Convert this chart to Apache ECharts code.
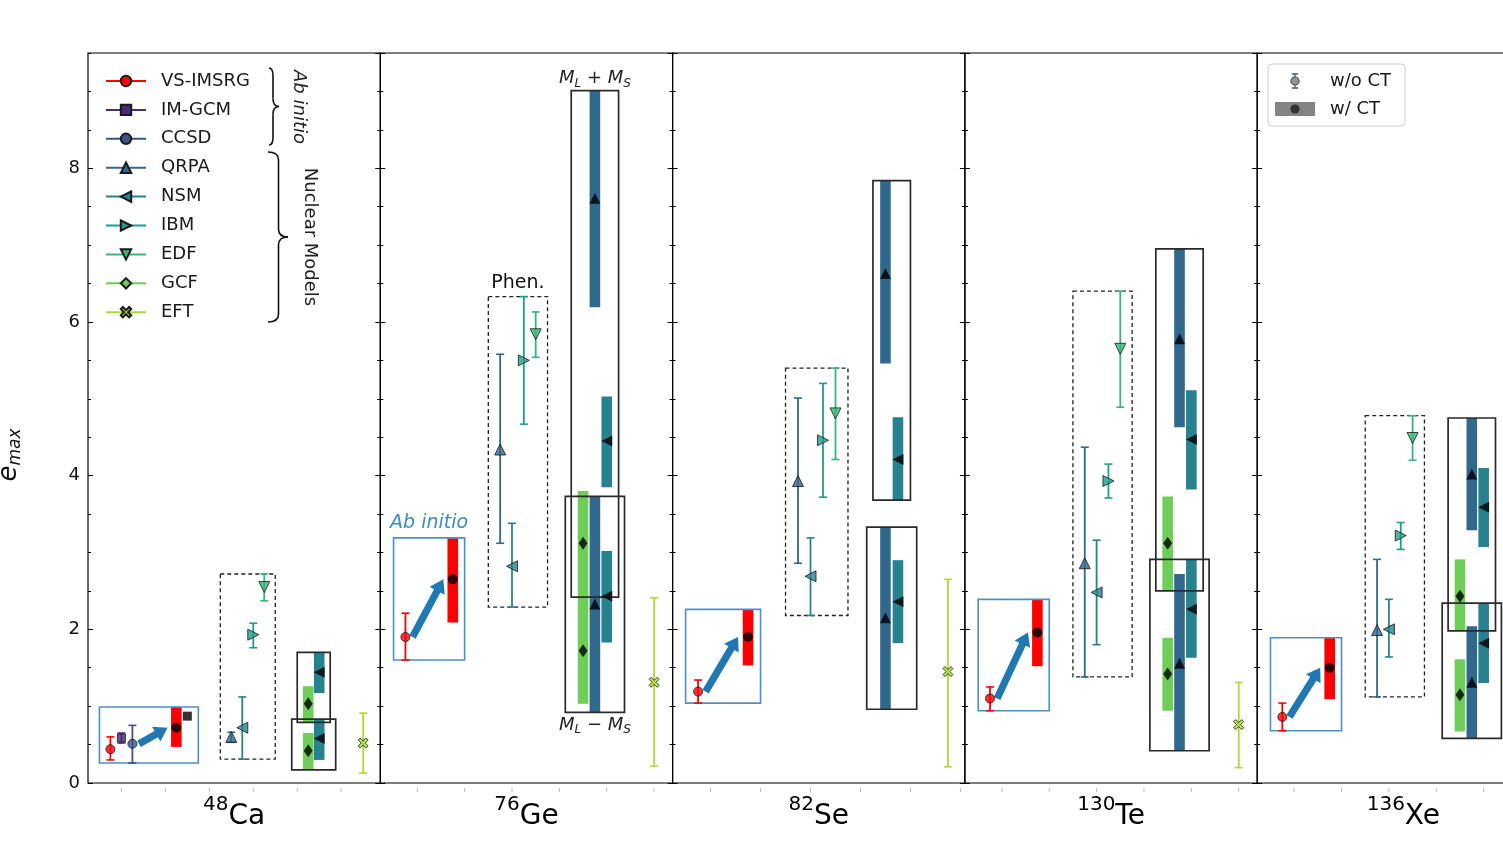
<!DOCTYPE html>
<html><head><meta charset="utf-8">
<script src="https://cdn.jsdelivr.net/npm/echarts/dist/echarts.min.js"></script>
<style>html,body{margin:0;padding:0;background:#fff}#c{width:1503px;height:865px}</style>
</head><body><div id="c"></div><script>
// ---------------- DATA ----------------
const nucleusMass = ['48','76','82','130','136'];
const nucleusElem = ['Ca','Ge','Se','Te','Xe'];
const modelNames = ['VS-IMSRG','IM-GCM','CCSD','QRPA','NSM','IBM','EDF','GCF','EFT'];
const ctLegendNames = ['w/o CT','w/ CT'];
const xTickValues = [0,1,2,3,4,5];
const yMajorTicks = [0,2,4,6,8];
// per-panel x-limits (slot units); the last panel runs past the figure edge
const xLimLo = [-0.76,-0.78,-0.76,-0.78,-0.78];
const xLimHi = [5.89,5.39,5.09,5.39,5.39];

// w/o CT values: [central, low, high] per nucleus (null = absent)
const vsNoCT    = [[0.44,0.30,0.60],[1.90,1.60,2.21],[1.19,1.04,1.34],[1.10,0.94,1.25],[0.86,0.68,1.04]];
const imgcmNoCT = [[0.585,0.52,0.65],null,null,null,null];
const ccsdNoCT  = [[0.51,0.26,0.75],null,null,null,null];
const qrpaNoCT  = [[0.60,0.53,0.66],[4.34,3.12,5.58],[3.93,2.86,5.01],[2.86,1.38,4.37],[1.99,1.12,2.91]];
const nsmNoCT   = [[0.72,0.31,1.12],[2.82,2.29,3.38],[2.69,2.18,3.19],[2.48,1.80,3.16],[2.00,1.64,2.39]];
const ibmNoCT   = [[1.93,1.76,2.08],[5.50,4.67,6.33],[4.46,3.72,5.20],[3.93,3.71,4.15],[3.22,3.04,3.39]];
const edfNoCT   = [[2.55,2.37,2.72],[5.84,5.54,6.13],[4.81,4.21,5.40],[5.65,4.89,6.40],[4.49,4.20,4.78]];
const eftNoCT   = [[0.52,0.13,0.91],[1.31,0.22,2.41],[1.45,0.21,2.65],[0.76,0.20,1.31],null];
// slot positions of w/o CT points
const vsX    = [-0.25,-0.25,-0.25,-0.25,-0.25];
const imgcmX = [0,null,null,null,null];
const ccsdX  = [0.25,null,null,null,null];
const qrpaX  = [2.5,1.75,1.75,1.75,1.75];
const nsmX   = [2.75,2.0,2.0,2.0,2.0];
const ibmX   = [3.0,2.25,2.25,2.25,2.25];
const edfX   = [3.25,2.5,2.5,2.5,2.5];
const eftX   = [5.5,5.0,4.75,5.0,5.0];

// w/ CT values
const vsCT    = [[0.72,0.47,0.99],[2.65,2.09,3.19],[1.90,1.53,2.26],[1.96,1.52,2.39],[1.50,1.09,1.89]];
const vsCTX   = [1.25,0.75,0.75,0.75,0.75];
const imgcmCT = [0.87,null,null,null,null];
const imgcmCTX= [1.5,null,null,null,null];
// M_L + M_S
const gcfPlus  = [[1.03,0.79,1.26],[3.12,2.42,3.80],null,[3.12,2.50,3.73],[2.43,1.98,2.91]];
const qrpaPlus = [null,[7.61,6.19,9.01],[6.63,5.46,7.84],[5.78,4.63,6.95],[4.02,3.29,4.75]];
const nsmPlus  = [[1.44,1.17,1.70],[4.45,3.85,5.03],[4.21,3.68,4.76],[4.47,3.82,5.11],[3.59,3.07,4.10]];
// M_L - M_S
const gcfMinus  = [[0.42,0.17,0.65],[1.72,1.03,2.41],null,[1.42,0.94,1.89],[1.15,0.67,1.61]];
const qrpaMinus = [null,[2.33,0.92,3.73],[2.15,0.96,3.33],[1.56,0.42,2.72],[1.31,0.58,2.04]];
const nsmMinus  = [[0.58,0.30,0.83],[2.43,1.83,3.02],[2.36,1.82,2.90],[2.26,1.63,2.91],[1.82,1.30,2.34]];
const gcfBarX  = [4.25,3.5,null,3.5,3.5];
const qrpaBarX = [null,3.75,3.5,3.75,3.75];
const nsmBarX  = [4.5,4.0,3.75,4.0,4.0];

// ---------------- STYLE ----------------
const FONT = 'DejaVu Sans';
const modelColors = ['#ff0000','#472c7a','#3b528b','#31688e','#26828e','#1f9e89','#35b779','#6ece58','#addc30'];
const X_PATH = 'path://M2,0 L5,3 L8,0 L10,2 L7,5 L10,8 L8,10 L5,7 L2,10 L0,8 L3,5 L0,2 Z';
const modelSymbols = ['circle','rect','circle','triangle','triangle','triangle','triangle','diamond',X_PATH];
const modelRotate = [0,0,0,0,90,-90,180,0,0];
const modelSize = [9,8,9,11,11,11,11,[9,13],10];
const panelLeft = [88,380.3,672.6,964.9,1257.2];
const panelWidth = 292.3;
const gridTop = 53, gridHeight = 730;

const noCTSets = [[0,vsNoCT,vsX],[1,imgcmNoCT,imgcmX],[2,ccsdNoCT,ccsdX],[3,qrpaNoCT,qrpaX],[4,nsmNoCT,nsmX],[5,ibmNoCT,ibmX],[6,edfNoCT,edfX],[8,eftNoCT,eftX]];
const plusSets = [[7,gcfPlus,gcfBarX],[3,qrpaPlus,qrpaBarX],[4,nsmPlus,nsmBarX]];
const minusSets = [[7,gcfMinus,gcfBarX],[3,qrpaMinus,qrpaBarX],[4,nsmMinus,nsmBarX]];

// ---------------- RENDERERS ----------------
function errItem(params, api){
  const x=api.value(0), lo=api.value(1), hi=api.value(2), ci=api.value(3);
  const a=api.coord([x,lo]), b=api.coord([x,hi]);
  const c=modelColors[ci], cw=4;
  return {type:'group', children:[
    {type:'line', shape:{x1:a[0],y1:a[1],x2:b[0],y2:b[1]}, style:{stroke:c,lineWidth:1.8}},
    {type:'line', shape:{x1:a[0]-cw,y1:a[1],x2:a[0]+cw,y2:a[1]}, style:{stroke:c,lineWidth:1.6}},
    {type:'line', shape:{x1:b[0]-cw,y1:b[1],x2:b[0]+cw,y2:b[1]}, style:{stroke:c,lineWidth:1.6}}
  ]};
}
function barItem(params, api){
  const x=api.value(0), lo=api.value(1), hi=api.value(2), ci=api.value(3);
  const t=api.coord([x,hi]), b=api.coord([x,lo]);
  return {type:'rect', shape:{x:t[0]-5.3,y:t[1],width:10.6,height:b[1]-t[1]}, style:{fill:modelColors[ci]}};
}
function boxItem(params, api){
  const x0=api.value(0), x1=api.value(1), y0=api.value(2), y1=api.value(3), kind=api.value(4);
  const a=api.coord([x0,y1]), b=api.coord([x1,y0]);
  let style;
  if(kind===0) style={stroke:'#4a90cc',lineWidth:1.6,fill:null};
  else if(kind===1) style={stroke:'#222',lineWidth:1.3,lineDash:[4,3],fill:null};
  else style={stroke:'#2a2a2a',lineWidth:1.7,fill:null};
  return {type:'rect', shape:{x:a[0],y:a[1],width:b[0]-a[0],height:b[1]-a[1]}, style:style};
}
function arrowItem(params, api){
  const a=api.coord([api.value(0),api.value(1)]), b=api.coord([api.value(2),api.value(3)]);
  let dx=b[0]-a[0], dy=b[1]-a[1]; const L=Math.hypot(dx,dy); dx/=L; dy/=L;
  const nx=-dy, ny=dx, hw=3.6, HW=8.5, HL=13;
  const k=[b[0]-dx*HL,b[1]-dy*HL];
  const pts=[[a[0]+nx*hw,a[1]+ny*hw],[k[0]+nx*hw,k[1]+ny*hw],[k[0]+nx*HW,k[1]+ny*HW],b,
             [k[0]-nx*HW,k[1]-ny*HW],[k[0]-nx*hw,k[1]-ny*hw],[a[0]-nx*hw,a[1]-ny*hw]];
  return {type:'polygon', shape:{points:pts}, style:{fill:'#1f77b4'}};
}
function xTickItem(params, api){
  const p=api.coord([api.value(0),0]);
  return {type:'line', shape:{x1:p[0],y1:p[1]+5,x2:p[0],y2:p[1]+9}, style:{stroke:'#bbb',lineWidth:1}};
}
const sub = {fontSize:12,fontStyle:'italic',fontFamily:FONT,fill:'#222',lineHeight:12,verticalAlign:'bottom'};
const itl = {fontSize:18,fontStyle:'italic',fontFamily:FONT,fill:'#222',lineHeight:22,verticalAlign:'middle'};
const nrm = {fontSize:18,fontFamily:FONT,fill:'#222',lineHeight:22,verticalAlign:'middle'};
const annoTexts = [
  {text:'Ab initio', dy:-15, style:{fill:'#3a8bd0',fontSize:19,fontStyle:'italic',fontFamily:FONT}},
  {text:'Phen.', dy:-14, style:{fill:'#111',fontSize:19,fontFamily:FONT}},
  {text:'{i|M}{s|L}{n| + }{i|M}{s|S}', dy:-12, style:{fill:'#222',fontSize:18,fontFamily:FONT,rich:{i:itl,s:sub,n:nrm}}},
  {text:'{i|M}{s|L}{n| \u2212 }{i|M}{s|S}', dy:13, style:{fill:'#222',fontSize:18,fontFamily:FONT,rich:{i:itl,s:sub,n:nrm}}}
];
function annoItem(params, api){
  const p=api.coord([api.value(0),api.value(1)]);
  const a=annoTexts[api.value(2)];
  return {type:'text', style:Object.assign({text:a.text,x:p[0],y:p[1]+a.dy,align:'center',verticalAlign:'middle'},a.style)};
}

// ---------------- BUILD ----------------
const grids=[], xAxes=[], yAxes=[], series=[];
function extent(list){ // list of [c,lo,hi]
  let lo=Infinity, hi=-Infinity;
  list.forEach(v=>{ if(v){ lo=Math.min(lo,v[1]); hi=Math.max(hi,v[2]); } });
  return [lo,hi];
}
for(let p=0;p<5;p++){
  grids.push({left:panelLeft[p], top:gridTop, width:panelWidth, height:gridHeight, show:true, borderColor:'#000', borderWidth:1.2, backgroundColor:'transparent', containLabel:false, outerBoundsMode:'none'});
  xAxes.push({gridIndex:p, type:'value', min:xLimLo[p], max:xLimHi[p], axisLine:{show:false,onZero:false}, axisTick:{show:false}, axisLabel:{show:false}, splitLine:{show:false},
    name:'{m|'+nucleusMass[p]+'}{e|'+nucleusElem[p]+'}', nameLocation:'middle', nameGap:12,
    nameTextStyle:{rich:{m:{fontSize:20,fontFamily:FONT,color:'#000',lineHeight:20,verticalAlign:'top'},e:{fontSize:28,fontFamily:FONT,color:'#000',lineHeight:36,verticalAlign:'bottom'}}}});
  [['left',2,5,true],['left',0.5,3,false],['right',2,5,false],['right',0.5,3,false]].forEach(([pos,iv,len,lab])=>{
    yAxes.push({gridIndex:p, type:'value', min:0, max:9.5, interval:iv, position:pos, axisLine:{show:false,onZero:false},
      axisTick:{show:true, inside:true, length:len, lineStyle:{color:'#000',width:1}},
      axisLabel:{show:lab && p===0, fontSize:18, fontFamily:FONT, color:'#111', margin:8, showMaxLabel:false,
        formatter:v=>yMajorTicks.includes(v)?String(v):''},
      splitLine:{show:false}});
  });
  const xi=p, yi=4*p;
  const errData=[], mk=[];
  noCTSets.forEach(([mi,vals,xs])=>{
    const v=vals[p]; if(!v) return;
    errData.push([xs[p],v[1],v[2],mi]);
    mk.push({value:[xs[p],v[0]], symbol:modelSymbols[mi], symbolSize:modelSize[mi], symbolRotate:modelRotate[mi],
      itemStyle:{color:modelColors[mi], borderColor:'#1a1a1a', borderWidth:1}});
  });
  const barData=[], ctMk=[];
  const ctSym = {0:'circle',7:'diamond',3:'triangle',4:'triangle'};
  const pushBar=(mi,v,x)=>{ if(!v||x==null) return; barData.push([x,v[1],v[2],mi]);
    ctMk.push({value:[x,v[0]], symbol:ctSym[mi], symbolSize:mi===7?[9,13]:(mi===0?10:11), symbolRotate:mi===4?90:0, itemStyle:{color:'#000'}}); };
  pushBar(0,vsCT[p],vsCTX[p]);
  plusSets.forEach(([mi,vals,xs])=>pushBar(mi,vals[p],xs[p]));
  minusSets.forEach(([mi,vals,xs])=>pushBar(mi,vals[p],xs[p]));
  if(imgcmCT[p]!=null) ctMk.push({value:[imgcmCTX[p],imgcmCT[p]], symbol:'rect', symbolSize:9, itemStyle:{color:'#000'}});
  const boxData=[];
  const abVals=[vsNoCT[p],imgcmNoCT[p],ccsdNoCT[p],vsCT[p]].concat(imgcmCT[p]!=null?[[imgcmCT[p],imgcmCT[p],imgcmCT[p]]]:[]);
  const abXs=[vsX[p],imgcmX[p],ccsdX[p],vsCTX[p],imgcmCTX[p]].filter(v=>v!=null);
  const abE=extent(abVals);
  boxData.push([Math.min(...abXs)-0.25, Math.max(...abXs)+0.25, abE[0], abE[1], 0]);
  const phVals=[qrpaNoCT[p],nsmNoCT[p],ibmNoCT[p],edfNoCT[p]];
  const phXs=[qrpaX[p],nsmX[p],ibmX[p],edfX[p]];
  const phE=extent(phVals);
  boxData.push([Math.min(...phXs)-0.25, Math.max(...phXs)+0.25, phE[0], phE[1], 1]);
  const plXs=plusSets.filter(s=>s[1][p]).map(s=>s[2][p]);
  const plE=extent(plusSets.map(s=>s[1][p]));
  boxData.push([Math.min(...plXs)-0.25, Math.max(...plXs)+0.25, plE[0], plE[1], 2]);
  const miXs=minusSets.filter(s=>s[1][p]).map(s=>s[2][p]);
  const miE=extent(minusSets.map(s=>s[1][p]));
  boxData.push([Math.min(...miXs)-0.375, Math.max(...miXs)+0.375, miE[0], miE[1], 3]);
  const srcs=[[vsX[p],vsNoCT[p]],[imgcmX[p],imgcmNoCT[p]],[ccsdX[p],ccsdNoCT[p]]].filter(s=>s[1]);
  const src=srcs.reduce((a,b)=>b[0]>a[0]?b:a);
  const arrowData=[[src[0]+0.15, src[1][0], vsCTX[p]-0.2, vsCT[p][0]]];

  series.push({type:'custom', xAxisIndex:xi, yAxisIndex:yi, renderItem:xTickItem, data:xTickValues.filter(v=>v<=xLimHi[p]).map(v=>[v]), z:1, silent:true});
  series.push({type:'custom', xAxisIndex:xi, yAxisIndex:yi, renderItem:barItem, data:barData, z:2, silent:true});
  series.push({type:'custom', xAxisIndex:xi, yAxisIndex:yi, renderItem:boxItem, data:boxData, z:3, silent:true});
  series.push({type:'custom', xAxisIndex:xi, yAxisIndex:yi, renderItem:errItem, data:errData, z:4, silent:true});
  series.push({type:'custom', xAxisIndex:xi, yAxisIndex:yi, renderItem:arrowItem, data:arrowData, z:4, silent:true});
  series.push({type:'scatter', xAxisIndex:xi, yAxisIndex:yi, data:mk, z:5, silent:true});
  series.push({type:'scatter', xAxisIndex:xi, yAxisIndex:yi, data:ctMk, z:5, silent:true});
  if(p===1){
    const b=boxData;
    series.push({type:'custom', xAxisIndex:xi, yAxisIndex:yi, renderItem:annoItem, z:6, silent:true,
      data:[[(b[0][0]+b[0][1])/2,b[0][3],0],[(b[1][0]+b[1][1])/2,b[1][3],1],[(b[2][0]+b[2][1])/2,b[2][3],2],[(b[3][0]+b[3][1])/2,b[3][2],3]]});
  }
}
modelNames.forEach((n,mi)=>{
  series.push({type:'line', name:n, data:[], xAxisIndex:0, yAxisIndex:0, symbol:modelSymbols[mi], symbolSize:modelSize[mi], symbolRotate:modelRotate[mi],
    itemStyle:{color:modelColors[mi], borderColor:'#1a1a1a', borderWidth:1}, lineStyle:{color:modelColors[mi], width:1.5}});
});
ctLegendNames.forEach(n=>series.push({type:'scatter', name:n, data:[], xAxisIndex:4, yAxisIndex:16}));
const svgNo = "<svg xmlns='http://www.w3.org/2000/svg' width='40' height='16' viewBox='0 0 40 16'><line x1='20' y1='1' x2='20' y2='15' stroke='#1f77b4' stroke-width='1.6'/><line x1='17' y1='1' x2='23' y2='1' stroke='#333' stroke-width='1.6'/><line x1='17' y1='15' x2='23' y2='15' stroke='#333' stroke-width='1.6'/><circle cx='20' cy='8' r='4.2' fill='#777' stroke='#222' stroke-width='1'/></svg>";
const svgW = "<svg xmlns='http://www.w3.org/2000/svg' width='40' height='16' viewBox='0 0 40 16'><rect x='0' y='1' width='40' height='14' fill='#666'/><circle cx='20' cy='8' r='4.6' fill='#000'/></svg>";
const img = s => 'image://data:image/svg+xml;charset=utf-8,' + encodeURIComponent(s);

function brace(x0, xm, tip, top, bot){
  const mid=(top+bot)/2, r=Math.min(8,(bot-top)/8);
  const st={stroke:'#111',lineWidth:1.6,fill:null};
  return {type:'group', children:[
    {type:'bezierCurve', shape:{x1:x0,y1:top,cpx1:xm,cpy1:top,x2:xm,y2:top+r}, style:st},
    {type:'line', shape:{x1:xm,y1:top+r,x2:xm,y2:mid-r}, style:st},
    {type:'bezierCurve', shape:{x1:xm,y1:mid-r,cpx1:xm,cpy1:mid,x2:tip,y2:mid}, style:st},
    {type:'bezierCurve', shape:{x1:tip,y1:mid,cpx1:xm,cpy1:mid,x2:xm,y2:mid+r}, style:st},
    {type:'line', shape:{x1:xm,y1:mid+r,x2:xm,y2:bot-r}, style:st},
    {type:'bezierCurve', shape:{x1:xm,y1:bot-r,cpx1:xm,cpy1:bot,x2:x0,y2:bot}, style:st}
  ]};
}

const option = {
  animation:false,
  backgroundColor:'#fff',
  grid:grids, xAxis:xAxes, yAxis:yAxes, series:series,
  legend:[
    {data:modelNames, orient:'vertical', left:105, top:71, padding:0, itemWidth:40, itemHeight:13, itemGap:8.9, selectedMode:false,
     textStyle:{fontSize:18, fontFamily:FONT, color:'#1a1a1a', lineHeight:20, padding:[0,0,0,10]}},
    {data:[{name:'w/o CT', icon:img(svgNo)},{name:'w/ CT', icon:img(svgW)}], orient:'vertical', left:1268, top:64, padding:[7,14,7,7],
     itemWidth:40, itemHeight:16, itemGap:8, selectedMode:false, backgroundColor:'#fff', borderColor:'#ccc', borderWidth:1, borderRadius:4,
     textStyle:{fontSize:18, fontFamily:FONT, color:'#1a1a1a', lineHeight:20, padding:[0,0,0,10]}}
  ],
  graphic:[
    {type:'text', x:10, y:455, rotation:Math.PI/2, style:{text:'{e|e}{s|max}', align:'center', verticalAlign:'middle',
      rich:{e:{fontSize:26,fontStyle:'italic',fontFamily:FONT,fill:'#111',lineHeight:28,verticalAlign:'top'},
            s:{fontSize:17,fontStyle:'italic',fontFamily:FONT,fill:'#111',lineHeight:20,verticalAlign:'bottom'}}}},
    brace(269,273,279,68,145),
    brace(268,278.5,288,152,322),
    {type:'text', x:299, y:107, rotation:-Math.PI/2, style:{text:'Ab initio', fontSize:18, fontStyle:'italic', fontFamily:FONT, fill:'#222', align:'center', verticalAlign:'middle'}},
    {type:'text', x:310, y:237, rotation:-Math.PI/2, style:{text:'Nuclear Models', fontSize:18, fontFamily:FONT, fill:'#222', align:'center', verticalAlign:'middle'}}
  ]
};
const chart = echarts.init(document.getElementById('c'), null, {renderer:'canvas'});
chart.setOption(option);
</script></body></html>
